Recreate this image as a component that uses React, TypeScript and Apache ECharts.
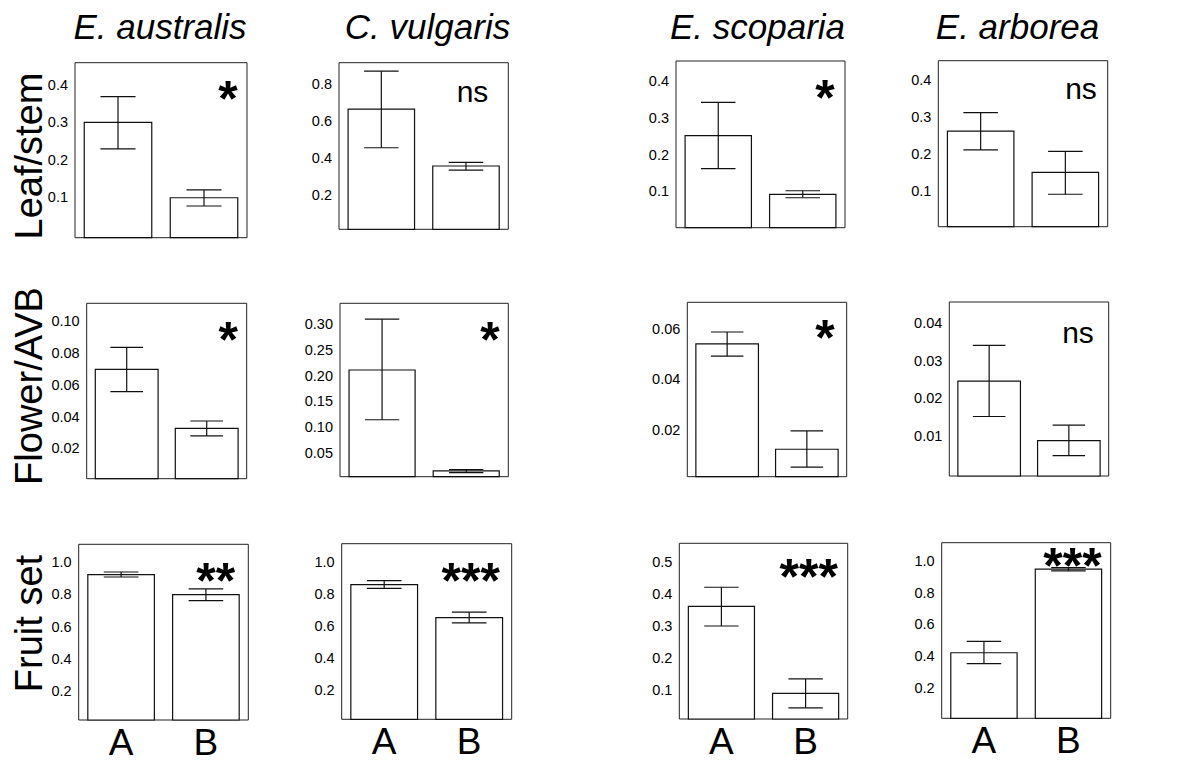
import React, { useEffect, useRef } from 'react';
import * as echarts from 'echarts';

// ---------- data ----------
const species = ['E. australis', 'C. vulgaris', 'E. scoparia', 'E. arborea'];
const rowLabels = ['Leaf/stem', 'Flower/AVB', 'Fruit set'];
const groups = ['A', 'B'];

// Leaf/stem ratio (mean, lower and upper error bar), per species [A, B]
const leafStemMean = [[0.300, 0.098], [0.666, 0.358], [0.251, 0.092], [0.261, 0.149]];
const leafStemLow = [[0.229, 0.076], [0.457, 0.336], [0.162, 0.083], [0.210, 0.090]];
const leafStemHigh = [[0.369, 0.119], [0.872, 0.378], [0.341, 0.102], [0.311, 0.206]];
const leafStemTicks = [[0.1, 0.2, 0.3, 0.4], [0.2, 0.4, 0.6, 0.8], [0.1, 0.2, 0.3, 0.4], [0.1, 0.2, 0.3, 0.4]];
const leafStemRange = [[-0.009, 0.46], [0.015, 0.918], [0.002, 0.453], [0.002, 0.452]];
const leafStemSig = ['*', 'ns', '*', 'ns'];

// Flower/AVB
const flowerMean = [[0.0696, 0.0326], [0.211, 0.0144], [0.0541, 0.0122], [0.0246, 0.0088]];
const flowerLow = [[0.0556, 0.0278], [0.114, 0.0111], [0.0492, 0.0051], [0.0152, 0.0048]];
const flowerHigh = [[0.0834, 0.0372], [0.310, 0.0170], [0.0588, 0.0195], [0.0341, 0.0129]];
const flowerTicks = [[0.02, 0.04, 0.06, 0.08, 0.10], [0.05, 0.10, 0.15, 0.20, 0.25, 0.30], [0.02, 0.04, 0.06], [0.01, 0.02, 0.03, 0.04]];
const flowerRange = [[0.001, 0.111], [0.003, 0.341], [0.0013, 0.0706], [-0.0006, 0.0456]];
const flowerSig = ['*', '*', '*', 'ns'];

// Fruit set
const fruitMean = [[0.922, 0.798], [0.857, 0.651], [0.360, 0.089], [0.422, 0.948]];
const fruitLow = [[0.907, 0.761], [0.834, 0.618], [0.299, 0.044], [0.353, 0.937]];
const fruitHigh = [[0.938, 0.833], [0.882, 0.685], [0.420, 0.134], [0.494, 0.958]];
const fruitTicks = [[0.2, 0.4, 0.6, 0.8, 1.0], [0.2, 0.4, 0.6, 0.8, 1.0], [0.1, 0.2, 0.3, 0.4, 0.5], [0.2, 0.4, 0.6, 0.8, 1.0]];
const fruitRange = [[0.0235, 1.109], [0.016, 1.113], [0.009, 0.557], [0.009, 1.115]];
const fruitSig = ['**', '***', '***', '***'];

const rowMeans = [leafStemMean, flowerMean, fruitMean];
const rowLows = [leafStemLow, flowerLow, fruitLow];
const rowHighs = [leafStemHigh, flowerHigh, fruitHigh];
const rowTicks = [leafStemTicks, flowerTicks, fruitTicks];
const rowRanges = [leafStemRange, flowerRange, fruitRange];
const rowSigs = [leafStemSig, flowerSig, fruitSig];
const rowDecimals = [1, 2, 1];

// ---------- layout (pixels) ----------
const panelBoxes = [
  [[75, 62.7, 172, 175], [339, 62.7, 169.3, 166.6], [676, 61, 169, 166.7], [938.3, 60.7, 169.4, 166]],
  [[86.7, 303.3, 160, 175.4], [340, 303.3, 168.3, 173.4], [687.3, 302.3, 159.4, 174.4], [949.3, 302, 159.4, 174]],
  [[78.7, 544.3, 169.6, 175.7], [341.7, 543.7, 170, 175.6], [679.3, 543.3, 168.4, 175.7], [941.7, 542.7, 169, 175.6]],
];
const sigPos = [
  [[228, 99], [472.5, 91.5], [825, 98], [1081, 88.5]],
  [[228.3, 339.5], [490, 339.5], [825, 338], [1078, 332.5]],
  [[215.8, 581], [470.8, 581], [808.8, 577], [1072.5, 566]],
];
const titleX = [160, 427.5, 757.5, 1017.5];
const rowLabelY = [156, 386, 623.5];

const FONT = '"Liberation Sans", Arial, Helvetica, sans-serif';
const INK = '#111';

export default function App() {
  const ref = useRef<HTMLDivElement>(null);

  useEffect(() => {
    document.body.style.margin = '0';
    const chart = echarts.init(ref.current!, null, { renderer: 'svg' });

    const grids: any[] = [];
    const xAxes: any[] = [];
    const yAxes: any[] = [];
    const series: any[] = [];
    const graphics: any[] = [];

    let k = 0;
    for (let r = 0; r < 3; r++) {
      for (let c = 0; c < 4; c++) {
        const [left, top, width, height] = panelBoxes[r][c];
        const [yMin, yMax] = rowRanges[r][c];
        const dec = rowDecimals[r];
        grids.push({
          left, top, width, height,
          show: true,
          borderColor: '#222',
          borderWidth: 1,
          backgroundColor: '#fff',
          containLabel: false,
        });
        xAxes.push({
          type: 'category',
          gridIndex: k,
          data: groups,
          axisLine: { show: false },
          axisTick: { show: false },
          splitLine: { show: false },
          axisLabel: {
            show: r === 2,
            fontSize: 37,
            fontFamily: FONT,
            color: '#000',
            margin: 4,
          },
        });
        yAxes.push({
          type: 'value',
          gridIndex: k,
          min: yMin,
          max: yMax,
          axisLine: { show: false },
          axisTick: { show: false },
          splitLine: { show: false },
          axisLabel: {
            customValues: rowTicks[r][c],
            formatter: (v: number) => v.toFixed(dec),
            fontSize: 14.5,
            fontFamily: FONT,
            color: '#000',
            margin: 7,
          },
        });
        const means = rowMeans[r][c];
        const lows = rowLows[r][c];
        const highs = rowHighs[r][c];
        const data = groups.map((_, i) => [i, means[i], lows[i], highs[i]]);
        series.push({
          type: 'custom',
          xAxisIndex: k,
          yAxisIndex: k,
          encode: { x: 0, y: [1, 2, 3] },
          data,
          renderItem: (params: any, api: any) => {
            const idx = api.value(0);
            const mean = api.value(1);
            const lo = api.value(2);
            const hi = api.value(3);
            const base = api.coord([idx, yMin]);
            const pTop = api.coord([idx, mean]);
            const pHi = api.coord([idx, hi]);
            const pLo = api.coord([idx, lo]);
            const catW = api.size([1, 0])[0];
            const bw = catW * 0.785;
            const cw = bw * 0.52;
            const st = { stroke: INK, lineWidth: 1.2 };
            return {
              type: 'group',
              children: [
                {
                  type: 'rect',
                  shape: { x: base[0] - bw / 2, y: pTop[1], width: bw, height: base[1] - pTop[1] },
                  style: { fill: '#fff', stroke: INK, lineWidth: 1.2 },
                },
                { type: 'line', shape: { x1: pHi[0], y1: pHi[1], x2: pLo[0], y2: pLo[1] }, style: st },
                { type: 'line', shape: { x1: pHi[0] - cw / 2, y1: pHi[1], x2: pHi[0] + cw / 2, y2: pHi[1] }, style: st },
                { type: 'line', shape: { x1: pLo[0] - cw / 2, y1: pLo[1], x2: pLo[0] + cw / 2, y2: pLo[1] }, style: st },
              ],
            };
          },
        });
        const sig = rowSigs[r][c];
        const isNs = sig === 'ns';
        graphics.push({
          type: 'text',
          x: sigPos[r][c][0],
          y: sigPos[r][c][1],
          z: 100,
          style: {
            text: sig,
            fill: '#000',
            font: isNs ? `30px ${FONT}` : `bold 50px ${FONT}`,
            textAlign: 'center',
            textVerticalAlign: 'middle',
          },
        });
        k++;
      }
    }

    species.forEach((s, i) => {
      graphics.push({
        type: 'text',
        x: titleX[i],
        y: 26,
        style: {
          text: s,
          fill: '#000',
          font: `italic 35px ${FONT}`,
          textAlign: 'center',
          textVerticalAlign: 'middle',
        },
      });
    });
    rowLabels.forEach((s, i) => {
      graphics.push({
        type: 'text',
        x: 28.5,
        y: rowLabelY[i],
        rotation: Math.PI / 2,
        style: {
          text: s,
          fill: '#000',
          font: `38px ${FONT}`,
          textAlign: 'center',
          textVerticalAlign: 'middle',
        },
      });
    });

    chart.setOption({
      animation: false,
      backgroundColor: '#fff',
      grid: grids,
      xAxis: xAxes,
      yAxis: yAxes,
      series,
      graphic: { elements: graphics },
    });

    return () => chart.dispose();
  }, []);

  return <div ref={ref} style={{ width: 1192, height: 763 }} />;
}
